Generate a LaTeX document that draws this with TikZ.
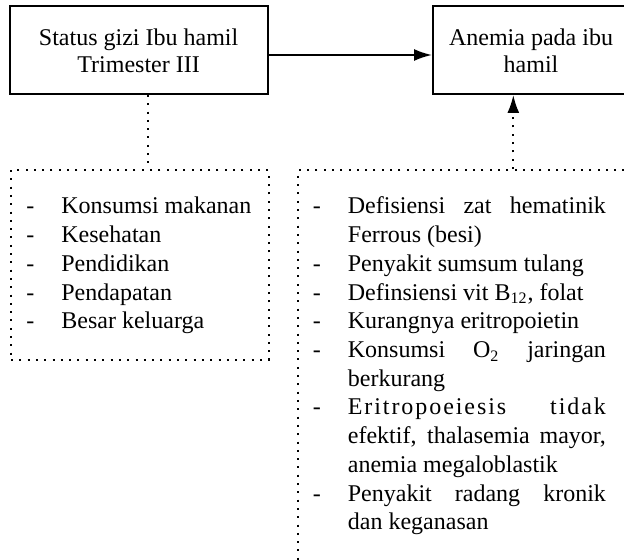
\documentclass[tikz,border=0pt]{standalone}
\usepackage{fontspec}
\setmainfont{Liberation Serif}
\usepackage{array}
\usetikzlibrary{arrows.meta}

\newcommand{\hurufdaftar}{\fontsize{12pt}{14.35pt}\selectfont
  \tolerance 9999 \hyphenpenalty 10000 }

\tikzset{
  kotak/.style={draw, line width=1pt, inner sep=0pt, align=center,
    font=\fontsize{12pt}{13.5pt}\selectfont},
  titik/.style={line width=1pt, dash pattern=on 1pt off 3.15pt},
  kotaktitik/.style={draw, titik, inner sep=0pt, anchor=north west},
  daftar/.style={inner sep=0pt, anchor=base west, font=\hurufdaftar},
  panah/.style={-{Latex[length=9pt,width=6pt]}}
}

\begin{document}
\begin{tikzpicture}[x=0.5pt,y=-0.5pt]
  \useasboundingbox (0,0) rectangle (624,560);
  \clip (0,0) rectangle (624,560);

  \node[kotak, minimum width=129.1pt, minimum height=44pt] (status) at (138.6,50) {\strut Status gizi Ibu hamil\\Trimester III};
  \node[kotak, minimum width=98pt, minimum height=44pt] (anemia) at (531,50) {\strut Anemia pada ibu\\hamil};

  \node[kotaktitik, minimum width=128.85pt, minimum height=95pt] (faktor) at (10,169) {};
  \node[kotaktitik, minimum width=172pt, minimum height=205pt] (penyebab) at (297.3,169) {};

  \node[daftar] (faktorteks) at (26,214) {\begin{tabular}[t]{@{}p{17.5pt}@{}p{100pt}@{}}
    - & Konsumsi makanan\\
    - & Kesehatan\\
    - & Pendidikan\\
    - & Pendapatan\\
    - & Besar keluarga
  \end{tabular}};

  \node[daftar] (penyebabteks) at (312.5,214) {\begin{tabular}[t]{@{}p{17.5pt}@{}p{129pt}@{}}
    - & Defisiensi zat hematinik\linebreak Ferrous (besi)\\
    - & Penyakit sumsum tulang\\
    - & Definsiensi vit B\textsubscript{12}, folat\\
    - & Kurangnya eritropoietin\\
    - & Konsumsi O\textsubscript{2} jaringan\linebreak berkurang\\
    - & {\addfontfeature{LetterSpace=8}Eritropoeiesis tidak}\linebreak efektif, thalasemia mayor,\linebreak anemia megaloblastik\\
    - & Penyakit radang kronik\linebreak dan keganasan
  \end{tabular}};

  \coordinate (turun) at (148.3,0);
  \coordinate (naik) at (513.3,0);

  \draw[panah, line width=1pt] ([yshift=-2.5pt]status.east) -- ([yshift=-2.5pt]anemia.west); %status-anemia
  \draw[titik] (turun |- status.south) -- (turun |- faktor.north); %status-faktor
  \draw[titik, panah] (naik |- penyebab.north) -- (naik |- anemia.south); %penyebab-anemia
\end{tikzpicture}
\end{document}
